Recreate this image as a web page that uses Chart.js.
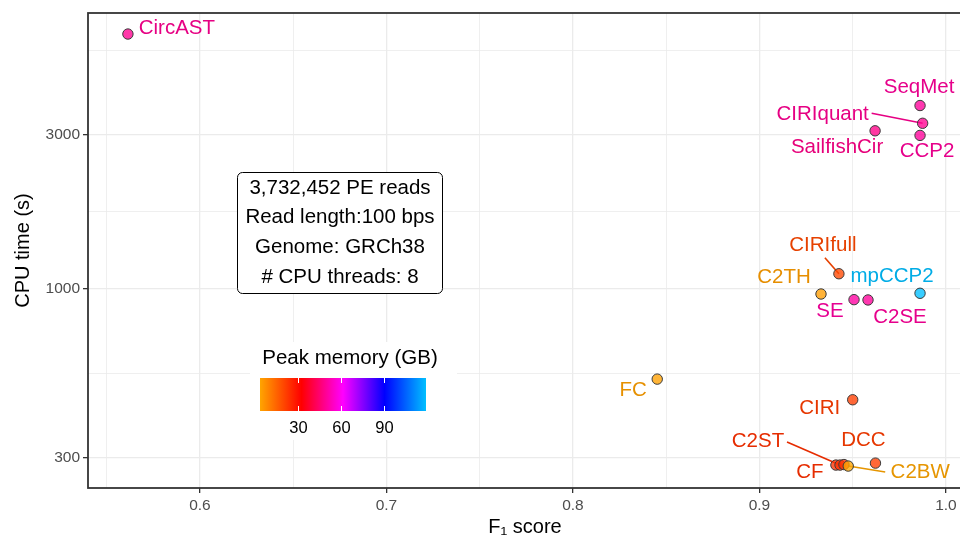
<!DOCTYPE html>
<html>
<head>
<meta charset="utf-8">
<script src="https://cdn.jsdelivr.net/npm/chart.js@4.4.1/dist/chart.umd.min.js"></script>
<style>
  html, body { margin: 0; padding: 0; background: #fff; overflow: hidden; }
  canvas { display: block; }
</style>
</head>
<body>
<canvas id="chart" width="970" height="537"></canvas>
<script>
// --- data ---
const tools = ['CircAST', 'SeqMet', 'CIRIquant', 'CCP2', 'SailfishCir', 'CIRIfull', 'C2TH', 'SE', 'C2SE',
               'mpCCP2', 'FC', 'CIRI', 'DCC', 'CF', 'C2ST', '', 'C2BW'];
const f1Score = [0.5614, 0.9861, 0.9875, 0.9861, 0.9620, 0.9426, 0.9330, 0.9507, 0.9582,
                 0.9861, 0.8452, 0.9500, 0.9622, 0.9410, 0.9432, 0.9453, 0.9476];
const cpuTime = [6160, 3700, 3260, 2990, 3090, 1115, 965, 927, 925,
                 970, 526, 454, 289, 285, 285, 286, 283];
const peakMem = [49, 50, 49, 50, 48, 20, 5, 51, 50,
                 119.3, 4.5, 22, 22, 24, 24, 24, 3.7];

const xTicks = [0.6, 0.7, 0.8, 0.9, 1.0];
const xMinor = [0.55, 0.65, 0.75, 0.85, 0.95];
const yTicks = [300, 1000, 3000];
const legendTicks = [30, 60, 90];
const infoLines = ['3,732,452 PE reads', 'Read length:100 bps', 'Genome: GRCh38', '# CPU threads: 8'];

// label placement (pixel offsets from the point), like ggrepel put them
const labelPos = {
  CircAST:     { dx: 49,  dy: -6 },
  SeqMet:      { dx: -1,  dy: -18 },
  CIRIquant:   { dx: -100, dy: -9,  seg: [-51, -10] },
  CCP2:        { dx: 7,   dy: 16 },
  SailfishCir: { dx: -38, dy: 17 },
  CIRIfull:    { dx: -16, dy: -28, seg: [-14, -16] },
  C2TH:        { dx: -37, dy: -17 },
  SE:          { dx: -24, dy: 12 },
  C2SE:        { dx: 32,  dy: 17 },
  mpCCP2:      { dx: -28, dy: -17 },
  FC:          { dx: -24, dy: 11 },
  CIRI:        { dx: -33, dy: 9 },
  DCC:         { dx: -12, dy: -23 },
  CF:          { dx: -26, dy: 7 },
  C2ST:        { dx: -82, dy: -24, seg: [-53, -23] },
  C2BW:        { dx: 72,  dy: 6,   seg: [37, 6] }
};

const FONT = "'Liberation Sans', Arial, Helvetica, sans-serif";
const memMin = Math.min(...peakMem);
const memMax = Math.max(...peakMem);
const memStops = [[255, 165, 0], [255, 0, 0], [255, 0, 255], [0, 0, 255], [0, 191, 255]];

function memRGB(m) {
  let t = (m - memMin) / (memMax - memMin) * (memStops.length - 1);
  t = Math.max(0, Math.min(memStops.length - 1, t));
  const i = Math.min(Math.floor(t), memStops.length - 2);
  const f = t - i;
  return memStops[i].map((c, k) => Math.round(c + (memStops[i + 1][k] - c) * f));
}
function memColor(m, alpha, dark) {
  const c = memRGB(m).map(v => Math.round(v * (dark || 1)));
  return `rgba(${c[0]},${c[1]},${c[2]},${alpha})`;
}
const isIn = (arr, v) => arr.some(a => Math.abs(a - v) / a < 1e-6);

// white boxes, colour bar, leader lines under the points
const underlay = {
  id: 'underlay',
  beforeDatasetsDraw(chart) {
    const c = chart.ctx;
    const xs = chart.scales.x, ys = chart.scales.y;
    c.save();

    // info box
    c.beginPath();
    c.roundRect(237.5, 172.5, 205, 121, 5);
    c.fillStyle = '#fff';
    c.fill();
    c.strokeStyle = '#000';
    c.lineWidth = 1;
    c.stroke();
    c.fillStyle = '#000';
    c.font = `20.5px ${FONT}`;
    c.textAlign = 'center';
    c.textBaseline = 'middle';
    infoLines.forEach((t, i) => c.fillText(t, 340, 188 + i * 29.8));

    // colour legend
    c.fillStyle = '#fff';
    c.fillRect(250, 342, 207, 98);
    c.fillStyle = '#000';
    c.font = `20.5px ${FONT}`;
    c.fillText('Peak memory (GB)', 350, 358);
    const bx0 = 260, bx1 = 426, by0 = 378, by1 = 411;
    const grad = c.createLinearGradient(bx0, 0, bx1, 0);
    memStops.forEach((s, i) => grad.addColorStop(i / (memStops.length - 1), `rgb(${s.join(',')})`));
    c.fillStyle = grad;
    c.fillRect(bx0, by0, bx1 - bx0, by1 - by0);
    c.strokeStyle = '#fff';
    c.lineWidth = 1;
    c.fillStyle = '#000';
    c.font = `16.5px ${FONT}`;
    legendTicks.forEach(v => {
      const px = Math.round(bx0 + (v - memMin) / (memMax - memMin) * (bx1 - bx0)) + 0.5;
      c.beginPath();
      c.moveTo(px, by0); c.lineTo(px, by0 + 5);
      c.moveTo(px, by1); c.lineTo(px, by1 - 5);
      c.stroke();
      c.fillText(String(v), px, 428);
    });

    // leader segments
    c.lineWidth = 1.6;
    tools.forEach((t, i) => {
      const lp = labelPos[t];
      if (!lp || !lp.seg) return;
      const px = xs.getPixelForValue(f1Score[i]);
      const py = ys.getPixelForValue(cpuTime[i]);
      c.strokeStyle = memColor(peakMem[i], 1, 0.9);
      c.beginPath();
      c.moveTo(px + lp.seg[0], py + lp.seg[1]);
      c.lineTo(px, py);
      c.stroke();
    });
    c.restore();
  },
  afterDatasetsDraw(chart) {
    const c = chart.ctx;
    const xs = chart.scales.x, ys = chart.scales.y;
    const a = chart.chartArea;
    c.save();
    c.font = `20.5px ${FONT}`;
    c.textAlign = 'center';
    c.textBaseline = 'middle';
    tools.forEach((t, i) => {
      const lp = labelPos[t];
      if (!t || !lp) return;
      const px = xs.getPixelForValue(f1Score[i]);
      const py = ys.getPixelForValue(cpuTime[i]);
      c.fillStyle = memColor(peakMem[i], 1, 0.9);
      c.fillText(t, px + lp.dx, py + lp.dy);
    });
    // panel border
    c.strokeStyle = '#333';
    c.lineWidth = 1.8;
    c.strokeRect(a.left, a.top, a.right - a.left, a.bottom - a.top);
    c.restore();
  }
};

const ctx = document.getElementById('chart').getContext('2d');
new Chart(ctx, {
  type: 'scatter',
  data: {
    datasets: [{
      data: tools.map((t, i) => ({ x: f1Score[i], y: cpuTime[i] })),
      pointRadius: 5.2,
      pointHoverRadius: 5.2,
      pointBackgroundColor: peakMem.map(m => memColor(m, 0.78)),
      pointBorderColor: '#3a3a3a',
      pointBorderWidth: 1
    }]
  },
  options: {
    responsive: false,
    animation: false,
    devicePixelRatio: 1,
    events: [],
    layout: { padding: { top: 13, right: 8, left: 0, bottom: 0 } },
    plugins: { legend: { display: false }, tooltip: { enabled: false } },
    scales: {
      x: {
        type: 'linear',
        min: 0.54,
        max: 1.0086,
        afterBuildTicks: s => { s.ticks = [...xMinor, ...xTicks].sort((p, q) => p - q).map(v => ({ value: v })); },
        afterFit: s => { s.height = 49; },
        ticks: {
          autoSkip: false,
          maxRotation: 0,
          padding: 3,
          color: '#4d4d4d',
          font: { family: FONT, size: 15.5 },
          callback: v => isIn(xTicks, v) ? v.toFixed(1) : ''
        },
        grid: {
          color: '#ebebeb',
          lineWidth: c => isIn(xTicks, c.tick.value) ? 1.3 : 0.8,
          tickLength: 5,
          tickWidth: 1.3,
          tickColor: c => isIn(xTicks, c.tick.value) ? '#333' : 'rgba(0,0,0,0)'
        },
        border: { display: false },
        title: {
          display: true,
          text: 'F₁ score',
          color: '#000',
          font: { family: FONT, size: 20, lineHeight: 1 },
          padding: { top: 0, bottom: 0 }
        }
      },
      y: {
        type: 'logarithmic',
        min: 242,
        max: 7157,
        afterBuildTicks: s => {
          const minor = [Math.sqrt(300 * 1000), Math.sqrt(1000 * 3000), Math.sqrt(3000 * 10000)];
          s.ticks = [...yTicks, ...minor].sort((p, q) => p - q).map(v => ({ value: v }));
        },
        afterFit: s => { s.width = 88; },
        ticks: {
          autoSkip: false,
          padding: 3,
          color: '#4d4d4d',
          font: { family: FONT, size: 15.5 },
          callback: v => isIn(yTicks, v) ? String(v) : ''
        },
        grid: {
          color: '#ebebeb',
          lineWidth: c => isIn(yTicks, c.tick.value) ? 1.3 : 0.8,
          tickLength: 5,
          tickWidth: 1.3,
          tickColor: c => isIn(yTicks, c.tick.value) ? '#333' : 'rgba(0,0,0,0)'
        },
        border: { display: false },
        title: {
          display: true,
          text: 'CPU time (s)',
          color: '#000',
          font: { family: FONT, size: 20, lineHeight: 1 },
          padding: { top: 13, bottom: 0 }
        }
      }
    }
  },
  plugins: [underlay]
});
</script>
</body>
</html>
